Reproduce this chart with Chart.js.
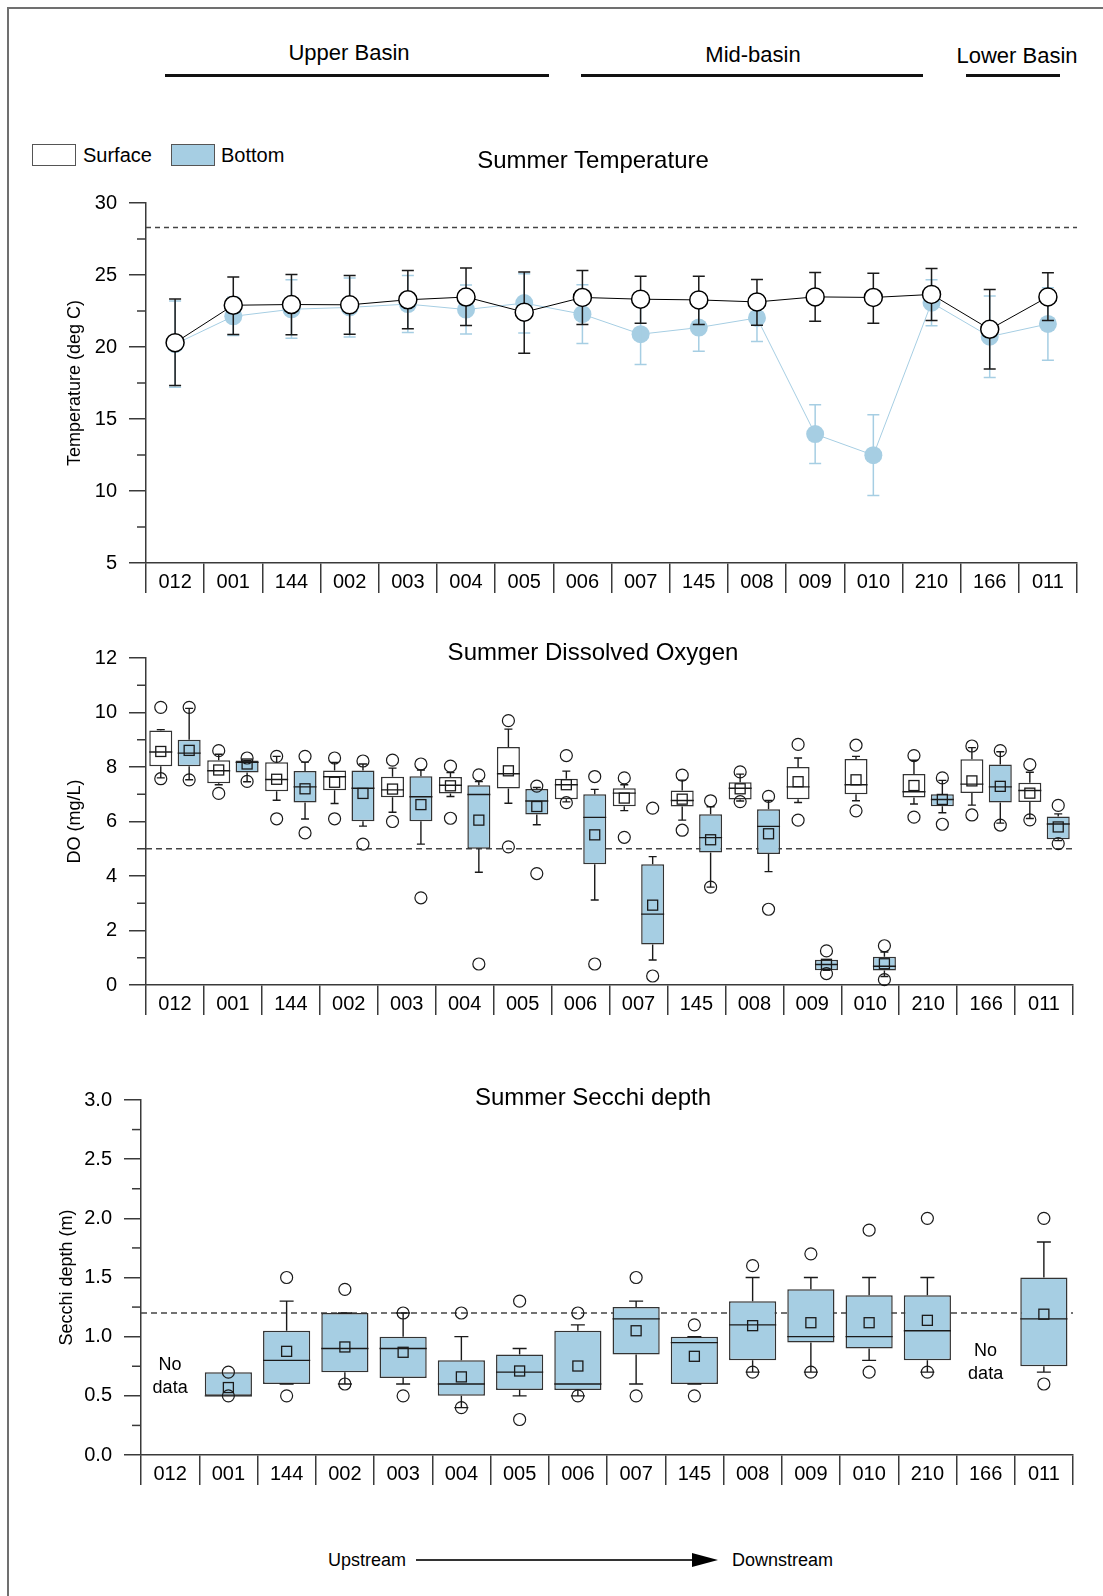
<!DOCTYPE html>
<html>
<head>
<meta charset="utf-8">
<script src="https://cdn.jsdelivr.net/npm/chart.js@4.4.1/dist/chart.umd.min.js"></script>
<style>
body { margin:0; background:#fff; font-family:"Liberation Sans", Arial, sans-serif; color:#000; }
#page { position:relative; width:1103px; height:1596px; overflow:hidden; }
.frame { position:absolute; left:7px; top:7px; width:1110px; height:1600px; border-top:2px solid #707070; border-left:2px solid #707070; }
.lbl { position:absolute; white-space:nowrap; transform:translateX(-50%); }
.head { font-size:22px; line-height:26px; }
.title { font-size:24px; line-height:28px; }
.rule { position:absolute; top:74px; height:3px; background:#111; }
.key { position:absolute; top:144px; width:44px; height:22px; box-sizing:border-box; border:1px solid #555; }
.keytxt { position:absolute; top:144px; font-size:20px; line-height:22px; }
.flow { position:absolute; top:1549px; font-size:18px; line-height:22px; }
canvas { position:absolute; left:0; }
</style>
</head>
<body>
<div id="page">
  <div class="frame"></div>

  <!-- basin headings -->
  <div class="lbl head" style="left:349px; top:40px;">Upper Basin</div>
  <div class="lbl head" style="left:753px; top:42px;">Mid-basin</div>
  <div class="lbl head" style="left:1017px; top:43px;">Lower Basin</div>
  <div class="rule" style="left:165px; width:384px;"></div>
  <div class="rule" style="left:581px; width:342px;"></div>
  <div class="rule" style="left:966px; width:94px;"></div>

  <canvas id="tempChart" width="1103" height="440" style="top:170px;"></canvas>
  <canvas id="doChart" width="1103" height="420" style="top:630px;"></canvas>
  <canvas id="secchiChart" width="1103" height="440" style="top:1070px;"></canvas>

  <!-- legend -->
  <div class="key" style="left:32px; background:#fff;"></div>
  <div class="keytxt" style="left:83px;">Surface</div>
  <div class="key" style="left:171px; background:#a6cee3;"></div>
  <div class="keytxt" style="left:221px;">Bottom</div>

  <div class="lbl title" style="left:593px; top:146px;">Summer Temperature</div>
  <div class="lbl title" style="left:593px; top:638px;">Summer Dissolved Oxygen</div>
  <div class="lbl title" style="left:593px; top:1083px;">Summer Secchi depth</div>

  <!-- flow direction -->
  <div class="flow" style="left:328px;">Upstream</div>
  <div style="position:absolute; left:416px; top:1559px; width:277px; height:2px; background:#333;"></div>
  <div style="position:absolute; left:692px; top:1553px; width:0; height:0; border-left:26px solid #000; border-top:7px solid transparent; border-bottom:7px solid transparent;"></div>
  <div class="flow" style="left:732px;">Downstream</div>
</div>

<script>
// stations, upstream to downstream
const stations = ['012','001','144','002','003','004','005','006','007','145','008','009','010','210','166','011'];

// temperature: mean with upper / lower error limits (deg C)
const tempSurfMean = [20.3, 22.9, 22.95, 22.93, 23.28, 23.47, 22.42, 23.44, 23.32, 23.27, 23.13, 23.48, 23.44, 23.65, 21.23, 23.48];
const tempSurfHi   = [23.33, 24.86, 25.04, 24.97, 25.32, 25.48, 25.2, 25.32, 24.92, 24.92, 24.69, 25.18, 25.13, 25.45, 23.99, 25.15];
const tempSurfLo   = [17.32, 20.87, 20.85, 20.89, 21.26, 21.5, 19.57, 21.56, 21.65, 21.56, 21.51, 21.79, 21.65, 21.84, 18.47, 21.84];
const tempBotMean  = [20.2, 22.13, 22.62, 22.75, 22.98, 22.6, 23.05, 22.28, 20.89, 21.35, 22.02, 13.95, 12.49, 23.08, 20.72, 21.6];
const tempBotHi    = [23.2, 23.46, 24.67, 24.8, 24.97, 24.3, 25.08, 24.32, 23.0, 23.0, 23.64, 15.99, 15.3, 24.67, 23.55, 24.11];
const tempBotLo    = [17.2, 20.79, 20.6, 20.7, 21.0, 20.9, 20.98, 20.24, 18.78, 19.7, 20.38, 11.91, 9.68, 21.47, 17.89, 19.08];
const tempCriterion = 28.3;

// dissolved oxygen box plots (mg/L)
const doSurfQ1    = [8.03, 7.40, 7.11, 7.15, 6.89, 7.03, 7.21, 6.82, 6.56, 6.55, 6.81, 6.82, 7.00, 6.88, 7.05, 6.72];
const doSurfMed   = [8.55, 7.86, 7.54, 7.64, 7.16, 7.33, 7.75, 7.35, 7.04, 6.77, 7.22, 7.27, 7.35, 7.09, 7.37, 7.14];
const doSurfQ3    = [9.34, 8.25, 8.17, 7.87, 7.64, 7.63, 8.73, 7.57, 7.22, 7.14, 7.44, 8.00, 8.29, 7.74, 8.28, 7.42];
const doSurfMin   = [7.60, 7.35, 6.78, 6.66, 6.34, 6.92, 6.67, 6.72, 6.40, 6.05, 6.75, 6.70, 6.76, 6.64, 6.60, 6.11];
const doSurfMax   = [9.37, 8.47, 8.39, 8.17, 7.96, 7.80, 9.39, 7.85, 7.35, 7.52, 7.74, 8.33, 8.39, 8.25, 8.71, 7.81];
const doSurfMean  = [8.57, 7.89, 7.55, 7.44, 7.19, 7.31, 7.86, 7.35, 6.86, 6.82, 7.20, 7.46, 7.53, 7.32, 7.49, 7.04];
const doSurfOutHi = [10.19, 8.60, 8.39, 8.33, 8.25, 8.03, 9.70, 8.42, 7.60, 7.70, 7.82, 8.83, 8.80, 8.42, 8.77, 8.09];
const doSurfOutLo = [7.57, 7.03, 6.10, 6.10, 6.00, 6.12, 5.07, 6.69, 5.42, 5.68, 6.73, 6.05, 6.39, 6.16, 6.24, 6.06];

const doBotQ1    = [8.03, 7.80, 6.70, 6.01, 6.01, 5.00, 6.26, 4.43, 1.49, 4.86, 4.81, 0.54, 0.53, 6.56, 6.70, 5.35];
const doBotMed   = [8.51, 8.17, 7.27, 7.22, 6.91, 6.99, 6.75, 6.15, 2.60, 5.41, 5.82, 0.75, 0.69, 6.81, 7.27, 5.91];
const doBotQ3    = [9.00, 8.24, 7.85, 7.87, 7.66, 7.33, 7.19, 7.00, 4.43, 6.27, 6.45, 0.93, 1.04, 7.00, 8.09, 6.18];
const doBotMin   = [7.53, 7.46, 6.09, 5.83, 5.17, 4.14, 5.88, 3.12, 0.92, 3.59, 4.16, 0.54, 0.31, 6.32, 5.94, 5.30];
const doBotMax   = [10.15, 8.24, 8.18, 8.11, 7.89, 7.47, 7.25, 7.18, 4.71, 6.54, 6.77, 0.93, 1.21, 7.51, 8.56, 6.28];
const doBotMean  = [8.61, 8.11, 7.20, 7.03, 6.62, 6.05, 6.55, 5.51, 2.93, 5.33, 5.55, 0.76, 0.78, 6.81, 7.29, 5.80];
const doBotOutHi = [10.19, 8.33, 8.39, 8.22, 8.11, 7.71, 7.30, 7.65, 6.49, 6.76, 6.92, 1.25, 1.44, 7.60, 8.60, 6.59];
const doBotOutLo = [7.53, 7.47, 5.58, 5.17, 3.20, 0.77, 4.09, 0.77, 0.33, 3.59, 2.78, 0.42, 0.20, 5.90, 5.87, 5.19];
const doCriterion = 5;

// secchi depth box plots (m), bottom only; null = no data
const secQ1    = [null, 0.50, 0.60, 0.70, 0.65, 0.50, 0.55, 0.55, 0.85, 0.60, 0.80, 0.95, 0.90, 0.80, null, 0.75];
const secMed   = [null, 0.50, 0.80, 0.90, 0.90, 0.60, 0.70, 0.60, 1.15, 0.95, 1.10, 1.00, 1.00, 1.05, null, 1.15];
const secQ3    = [null, 0.70, 1.05, 1.20, 1.00, 0.80, 0.85, 1.05, 1.25, 1.00, 1.30, 1.40, 1.35, 1.35, null, 1.50];
const secMin   = [null, null, 0.60, 0.60, 0.60, 0.40, 0.50, 0.50, 0.60, 0.60, 0.70, 0.70, 0.80, 0.70, null, 0.70];
const secMax   = [null, null, 1.30, 1.20, 1.20, 1.00, 0.90, 1.10, 1.30, 1.00, 1.50, 1.50, 1.50, 1.50, null, 1.80];
const secMean  = [null, 0.57, 0.876, 0.913, 0.868, 0.66, 0.71, 0.752, 1.05, 0.834, 1.093, 1.118, 1.118, 1.138, null, 1.19];
const secOutHi = [null, 0.70, 1.50, 1.40, 1.20, 1.20, 1.30, 1.20, 1.50, 1.10, 1.60, 1.70, 1.90, 2.00, null, 2.00];
const secOutLo = [null, 0.50, 0.50, 0.60, 0.50, 0.40, 0.30, 0.50, 0.50, 0.50, 0.70, 0.70, 0.70, 0.70, null, 0.60];
const secCriterion = 1.2;

const BLUE = '#a6cee3';
const AXIS = '#3a3a3a';
const INK = '#1a1a1a';

Chart.defaults.font.family = '"Liberation Sans", Arial, sans-serif';
Chart.defaults.color = '#000';
Chart.defaults.animation = false;

// ---------- small drawing plugins ----------

// short ticks half way between labelled y ticks
const minorTicks = {
	id: 'minorTicks',
	afterDraw(chart) {
		const y = chart.scales.y, ctx = chart.ctx, x0 = chart.chartArea.left;
		const vals = y.ticks.map(t => t.value);
		ctx.save();
		ctx.strokeStyle = AXIS;
		ctx.lineWidth = 1.5;
		for (let i = 0; i < vals.length - 1; i++) {
			const py = y.getPixelForValue((vals[i] + vals[i + 1]) / 2);
			ctx.beginPath();
			ctx.moveTo(x0 - 9, py);
			ctx.lineTo(x0, py);
			ctx.stroke();
		}
		ctx.restore();
	}
};

// dashed criterion line across the plot
function criterionLine(value, dash) {
	return {
		id: 'criterionLine',
		beforeDatasetsDraw(chart) {
			const {ctx, chartArea} = chart;
			const py = chart.scales.y.getPixelForValue(value);
			ctx.save();
			ctx.strokeStyle = '#444';
			ctx.lineWidth = 1.3;
			ctx.setLineDash(dash);
			ctx.beginPath();
			ctx.moveTo(chartArea.left, py);
			ctx.lineTo(chartArea.right, py);
			ctx.stroke();
			ctx.restore();
		}
	};
}

// error bars, drawn right after the dataset given in "after"
function errorBars(sets, cap) {
	return {
		id: 'errorBars',
		afterDatasetDraw(chart, args) {
			const ctx = chart.ctx, y = chart.scales.y;
			sets.filter(s => s.after === args.index).forEach(s => {
				const meta = chart.getDatasetMeta(s.dataset);
				ctx.save();
				ctx.strokeStyle = s.color;
				ctx.lineWidth = 1.5;
				meta.data.forEach((pt, i) => {
					const top = y.getPixelForValue(s.hi[i]);
					const bot = y.getPixelForValue(s.lo[i]);
					ctx.beginPath();
					ctx.moveTo(pt.x, top); ctx.lineTo(pt.x, bot);
					ctx.moveTo(pt.x - cap / 2, top); ctx.lineTo(pt.x + cap / 2, top);
					ctx.moveTo(pt.x - cap / 2, bot); ctx.lineTo(pt.x + cap / 2, bot);
					ctx.stroke();
				});
				ctx.restore();
			});
		}
	};
}

// whiskers, median, mean square and outlier circles on top of floating bars
function boxDecor(stats, cap) {
	return {
		id: 'boxDecor',
		afterDatasetsDraw(chart) {
			const ctx = chart.ctx, y = chart.scales.y;
			const py = v => y.getPixelForValue(v);
			ctx.save();
			ctx.strokeStyle = INK;
			stats.forEach((s, d) => {
				chart.getDatasetMeta(d).data.forEach((bar, i) => {
					if (s.med[i] == null) return;
					const x = bar.x, w = bar.width;
					ctx.lineWidth = 1.4;
					ctx.beginPath();
					if (s.max[i] != null) {
						ctx.moveTo(x, py(s.q3[i])); ctx.lineTo(x, py(s.max[i]));
						ctx.moveTo(x - cap / 2, py(s.max[i])); ctx.lineTo(x + cap / 2, py(s.max[i]));
					}
					if (s.min[i] != null) {
						ctx.moveTo(x, py(s.q1[i])); ctx.lineTo(x, py(s.min[i]));
						ctx.moveTo(x - cap / 2, py(s.min[i])); ctx.lineTo(x + cap / 2, py(s.min[i]));
					}
					ctx.moveTo(x - w / 2, py(s.med[i])); ctx.lineTo(x + w / 2, py(s.med[i]));
					ctx.stroke();

					ctx.lineWidth = 1.3;
					ctx.strokeRect(x - 5, py(s.mean[i]) - 5, 10, 10);

					ctx.lineWidth = 1.2;
					[s.outHi[i], s.outLo[i]].forEach(v => {
						if (v == null) return;
						ctx.beginPath();
						ctx.arc(x, py(v), 6, 0, Math.PI * 2);
						ctx.stroke();
					});
				});
			});
			ctx.restore();
		}
	};
}

// "No data" note at stations without secchi readings
function noDataNote(levels) {
	return {
		id: 'noDataNote',
		afterDatasetsDraw(chart) {
			const ctx = chart.ctx;
			ctx.save();
			ctx.font = '18px "Liberation Sans", Arial, sans-serif';
			ctx.fillStyle = '#000';
			ctx.textAlign = 'center';
			ctx.textBaseline = 'middle';
			Object.keys(levels).forEach(st => {
				const i = stations.indexOf(st);
				const x = chart.scales.x.getPixelForValue(i);
				const yc = chart.scales.y.getPixelForValue(levels[st]);
				ctx.fillText('No', x, yc - 11.5);
				ctx.fillText('data', x, yc + 11.5);
			});
			ctx.restore();
		}
	};
}

// ---------- shared axis setup ----------

function xAxis(height) {
	return {
		type: 'category',
		offset: true,
		grid: { offset: true, drawOnChartArea: false, tickLength: 30, color: AXIS, lineWidth: 1.5 },
		border: { color: AXIS, width: 1.5 },
		ticks: { font: { size: 20 }, color: '#000', padding: -23, maxRotation: 0, autoSkip: false },
		afterFit: s => { s.height = height; }
	};
}

function yAxis(min, max, step, title, width, titlePad, fmt) {
	return {
		min: min, max: max,
		grid: { drawOnChartArea: false, tickLength: 17, color: AXIS, lineWidth: 1.5 },
		border: { color: AXIS, width: 1.5 },
		ticks: { stepSize: step, font: { size: 20 }, color: '#000', padding: 12, callback: fmt || (v => v) },
		title: { display: true, text: title, font: { size: 18 }, color: '#000', padding: { top: titlePad, bottom: 0 } },
		afterFit: s => { s.width = width; }
	};
}

const quiet = { legend: { display: false }, tooltip: { enabled: false } };

// ---------- Summer Temperature ----------
new Chart(document.getElementById('tempChart'), {
	type: 'line',
	data: {
		labels: stations,
		datasets: [
			{
				label: 'Surface', data: tempSurfMean,
				borderColor: '#000', borderWidth: 1,
				pointRadius: 9, pointHoverRadius: 9, pointBorderWidth: 1.5,
				pointBackgroundColor: '#fff', pointBorderColor: '#000', tension: 0
			},
			{
				label: 'Bottom', data: tempBotMean,
				borderColor: BLUE, borderWidth: 1,
				pointRadius: 9, pointHoverRadius: 9, pointBorderWidth: 0,
				pointBackgroundColor: BLUE, pointBorderColor: BLUE, tension: 0
			}
		]
	},
	options: {
		responsive: false,
		layout: { padding: { top: 33, right: 26, left: 0, bottom: 0 } },
		plugins: quiet,
		scales: {
			x: xAxis(47),
			y: yAxis(5, 30, 5, 'Temperature (deg C)', 146, 64)
		}
	},
	plugins: [
		minorTicks,
		criterionLine(tempCriterion, [5, 4]),
		errorBars([
			{ dataset: 1, after: 1, hi: tempBotHi, lo: tempBotLo, color: BLUE },
			{ dataset: 0, after: 1, hi: tempSurfHi, lo: tempSurfLo, color: INK }
		], 12)
	]
});

// ---------- Summer Dissolved Oxygen ----------
new Chart(document.getElementById('doChart'), {
	type: 'bar',
	data: {
		labels: stations,
		datasets: [
			{
				label: 'Surface', data: doSurfQ1.map((q, i) => [q, doSurfQ3[i]]),
				backgroundColor: '#fff', borderColor: '#333', borderWidth: 1.5, borderSkipped: false,
				categoryPercentage: 0.98, barPercentage: 0.81
			},
			{
				label: 'Bottom', data: doBotQ1.map((q, i) => [q, doBotQ3[i]]),
				backgroundColor: BLUE, borderColor: '#333', borderWidth: 1.5, borderSkipped: false,
				categoryPercentage: 0.98, barPercentage: 0.81
			}
		]
	},
	options: {
		responsive: false,
		layout: { padding: { top: 28, right: 30, left: 0, bottom: 0 } },
		plugins: quiet,
		scales: {
			x: xAxis(65),
			y: yAxis(0, 12, 2, 'DO (mg/L)', 146, 64)
		}
	},
	plugins: [
		minorTicks,
		criterionLine(doCriterion, [6, 4]),
		boxDecor([
			{ q1: doSurfQ1, q3: doSurfQ3, med: doSurfMed, min: doSurfMin, max: doSurfMax, mean: doSurfMean, outHi: doSurfOutHi, outLo: doSurfOutLo },
			{ q1: doBotQ1, q3: doBotQ3, med: doBotMed, min: doBotMin, max: doBotMax, mean: doBotMean, outHi: doBotOutHi, outLo: doBotOutLo }
		], 8)
	]
});

// ---------- Summer Secchi depth ----------
new Chart(document.getElementById('secchiChart'), {
	type: 'bar',
	data: {
		labels: stations,
		datasets: [
			{
				label: 'Bottom', data: secQ1.map((q, i) => q == null ? null : [q, secQ3[i]]),
				backgroundColor: BLUE, borderColor: '#333', borderWidth: 1.5, borderSkipped: false,
				categoryPercentage: 1, barPercentage: 0.81
			}
		]
	},
	options: {
		responsive: false,
		layout: { padding: { top: 30, right: 30, left: 0, bottom: 0 } },
		plugins: quiet,
		scales: {
			x: xAxis(55),
			y: yAxis(0, 3, 0.5, 'Secchi depth (m)', 141, 56, v => v.toFixed(1))
		}
	},
	plugins: [
		minorTicks,
		criterionLine(secCriterion, [6, 4]),
		boxDecor([
			{ q1: secQ1, q3: secQ3, med: secMed, min: secMin, max: secMax, mean: secMean, outHi: secOutHi, outLo: secOutLo }
		], 14),
		noDataNote({ '012': 0.66, '166': 0.78 })
	]
});
</script>
</body>
</html>
